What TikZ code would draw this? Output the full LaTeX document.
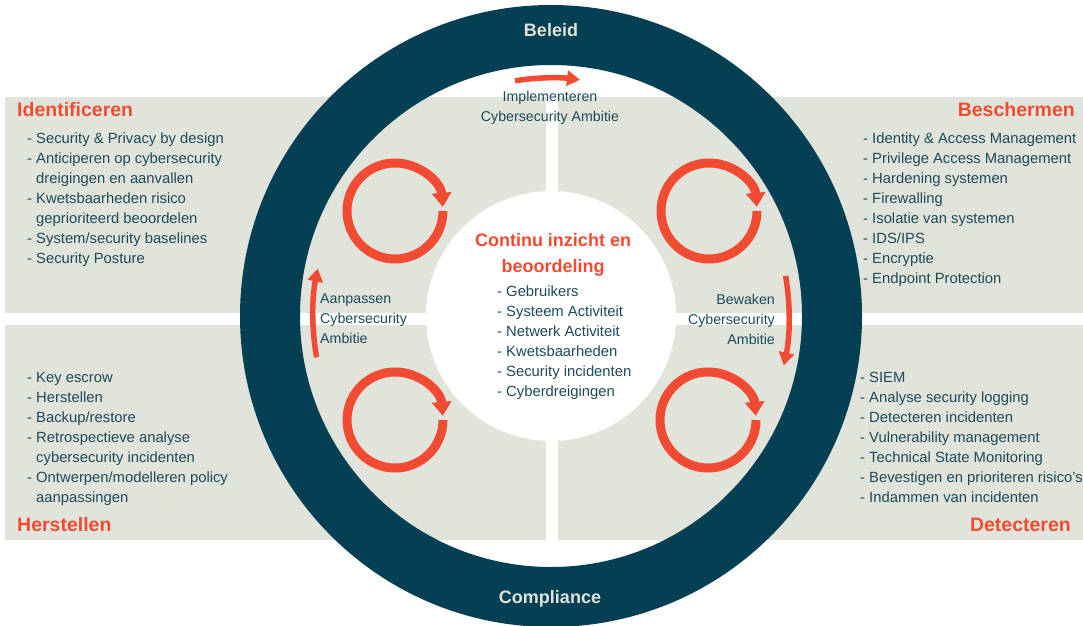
\documentclass[tikz,border=0pt]{standalone}
\usepackage{fontspec}
\setmainfont{Liberation Sans}
\usetikzlibrary{arrows.meta}

\definecolor{ringblue}{HTML}{043F54}
\definecolor{panelgrey}{HTML}{E1E4DA}
\definecolor{accent}{HTML}{F24B33}
\definecolor{itemtext}{HTML}{1C4A5A}

\begin{document}
\begin{tikzpicture}[
  x=1pt,y=1pt,
  title/.style={text=accent,font=\fontsize{19.5}{22}\selectfont\bfseries,inner sep=0pt},
  items/.style={text=itemtext,font=\fontsize{14.8}{20}\selectfont,align=left,inner sep=0pt},
  phase/.style={text=itemtext,font=\fontsize{14.2}{20}\selectfont,inner sep=0pt},
  ringlabel/.style={text=panelgrey,font=\fontsize{18}{20}\selectfont\bfseries},
  cycle/.style={accent,line width=9pt,-{Triangle[width=19pt,length=14pt]}},
  flow/.style={accent,line width=5.5pt,-{Triangle[width=15pt,length=13pt]}}
]
\useasboundingbox (0,0) rectangle (1083,625);
\coordinate (c) at (551,309);

% quadrant panels
\fill[panelgrey] (5,528) rectangle (546,312);
\fill[panelgrey] (558,528) rectangle (1083,312);
\fill[panelgrey] (5,300) rectangle (546,85);
\fill[panelgrey] (558,300) rectangle (1083,85);

% outer ring and centre disc
\draw[ringblue,line width=60pt] (c) circle[radius=281];
\fill[white] (c) circle[radius=125];

\node[ringlabel] (beleid) at (551,595) {Beleid};
\node[ringlabel] (compliance) at (550,26) {Compliance};

% cycle arrows in the quadrants
\foreach \cx/\cy in {395/414,709/414,395/205,708/205}
  \draw[cycle] (\cx+48,\cy) arc[start angle=0,end angle=-355,radius=48];

% arrows along the ring
\draw[flow] (c) ++(98.7:238) arc[start angle=98.7,end angle=83,radius=238];
\draw[flow] (c) ++(9.7:238) arc[start angle=9.7,end angle=-12,radius=238];
\draw[flow] (c) ++(190:238) arc[start angle=190,end angle=168.5,radius=238];

\node[phase,align=center] (implementeren) at (550,517)
  {Implementeren\\Cybersecurity Ambitie};
\node[phase,align=left,anchor=west] (aanpassen) at (320,306)
  {Aanpassen\\Cybersecurity\\Ambitie};
\node[phase,align=right,anchor=east] (bewaken) at (775,306)
  {Bewaken\\Cybersecurity\\Ambitie};

% quadrant titles
\node[title,anchor=west] (identificeren) at (17,515) {Identificeren};
\node[title,anchor=east] (beschermen) at (1075,515) {Beschermen};
\node[title,anchor=west] (herstellen) at (17,100) {Herstellen};
\node[title,anchor=east] (detecteren) at (1071,100) {Detecteren};

% quadrant lists
\node[items,anchor=north west] (idlist) at (27,492)
  {-~Security \& Privacy by design\\
   -~Anticiperen op cybersecurity\\
   \phantom{-}~dreigingen en aanvallen\\
   -~Kwetsbaarheden risico\\
   \phantom{-}~geprioriteerd beoordelen\\
   -~System/security baselines\\
   -~Security Posture};
\node[items,anchor=north west] (protlist) at (863,492)
  {-~Identity \& Access Management\\
   -~Privilege Access Management\\
   -~Hardening systemen\\
   -~Firewalling\\
   -~Isolatie van systemen\\
   -~IDS/IPS\\
   -~Encryptie\\
   -~Endpoint Protection};
\node[items,anchor=north west] (reclist) at (27,253)
  {-~Key escrow\\
   -~Herstellen\\
   -~Backup/restore\\
   -~Retrospectieve analyse\\
   \phantom{-}~cybersecurity incidenten\\
   -~Ontwerpen/modelleren policy\\
   \phantom{-}~aanpassingen};
\node[items,anchor=north west] (detlist) at (860,253)
  {-~SIEM\\
   -~Analyse security logging\\
   -~Detecteren incidenten\\
   -~Vulnerability management\\
   -~Technical State Monitoring\\
   -~Bevestigen en prioriteren risico's\\
   -~Indammen van incidenten};

% centre
\node[text=accent,font=\fontsize{18}{26}\selectfont\bfseries,align=center] (inzicht) at (553,370)
  {Continu inzicht en\\beoordeling};
\node[items,anchor=north west] (centrelist) at (497,339)
  {-~Gebruikers\\
   -~Systeem Activiteit\\
   -~Netwerk Activiteit\\
   -~Kwetsbaarheden\\
   -~Security incidenten\\
   -~Cyberdreigingen};
\end{tikzpicture}
\end{document}
